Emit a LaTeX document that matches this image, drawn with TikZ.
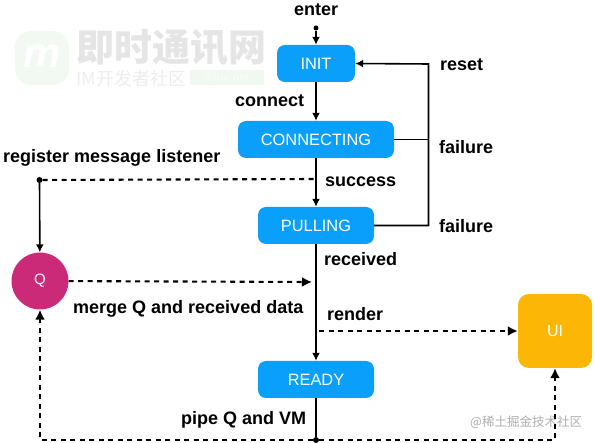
\documentclass[tikz,border=0pt]{standalone}
\usepackage{fontspec}
\setmainfont{Liberation Sans}
\newfontfamily\cjkfont{Noto Sans CJK SC}
\usetikzlibrary{arrows.meta, calc}

\definecolor{stateblue}{HTML}{0A9FFB}
\definecolor{queuered}{HTML}{CB2A78}
\definecolor{uiyellow}{HTML}{FBB606}

\tikzset{
  state/.style={draw=none, fill=stateblue, rounded corners=8pt, text=white, minimum width=116pt, minimum height=37pt, inner sep=0pt, font=\fontsize{16.4}{16.4}\selectfont},
  lbl/.style={anchor=base west, inner sep=0pt, font=\fontsize{18}{18}\selectfont\bfseries},
  flow/.style={line width=1.6pt, -{Latex[length=8pt,width=8pt]}},
  plainline/.style={line width=1.6pt},
  dashline/.style={line width=2.1pt, dash pattern=on 5pt off 4.5pt},
  dasharrow/.style={dashline, -{Latex[length=10pt,width=10pt]}},
  dotmark/.style={circle, fill=black, minimum size=6pt, inner sep=0pt}
}

\begin{document}
\begin{tikzpicture}[x=1pt, y=-1pt]
  \useasboundingbox (0,0) rectangle (595,443);

  % watermark top left
  \fill[green!50!black, opacity=0.05, rounded corners=16pt] (15,31) rectangle (69,85);
  \node[inner sep=0pt, text=white, font=\fontsize{42}{42}\selectfont\bfseries\itshape] (logo) at (42,56) {m};
  \node[inner sep=0pt, text=black!10, font=\cjkfont\fontsize{38}{38}\selectfont\bfseries, anchor=west] (wmtitle) at (76,48) {即时通讯网};
  \node[inner sep=0pt, text=black!7, font=\cjkfont\fontsize{18}{18}\selectfont, anchor=west] (wmsub) at (76,79) {IM开发者社区};
  \node[fill=green!50!black, fill opacity=0.06, text opacity=0.5, text=white, inner sep=1pt, minimum width=74pt, minimum height=15pt, font=\fontsize{11}{11}\selectfont\bfseries] (wmsite) at (227,78) {52im.net};

  % watermark bottom right
  \node[inner sep=0pt, text=black!32, font=\cjkfont\fontsize{12.5}{12.5}\selectfont, anchor=west] (wmcredit) at (470,422) {@稀土掘金技术社区};

  % states
  \node[state, minimum width=78pt] (init) at (316,63.5) {INIT};
  \node[state, minimum width=156pt] (connecting) at (316,139.5) {CONNECTING};
  \node[state] (pulling) at (316,225.5) {PULLING};
  \node[state] (ready) at (316,379.5) {READY};
  \node[circle, fill=queuered, text=white, minimum size=57pt, inner sep=0pt, font=\fontsize{15}{15}\selectfont] (q) at (40,281) {Q};
  \node[fill=uiyellow, text=white, rounded corners=11pt, minimum size=74pt, inner sep=0pt, font=\fontsize{16}{16}\selectfont] (ui) at (555,331) {UI};

  % helper points
  \node[dotmark, minimum size=5pt] (start) at (316,28) {};
  \node[dotmark] (listen) at (39.5,180) {};
  \node[dotmark] (pipe) at (316,440) {};
  \coordinate (rail) at (428.5,64);
  \coordinate (mergeend) at (312,282);
  \coordinate (renderstart) at (319,331);
  \coordinate (successpoint) at (316,179);

  % main flow
  \draw[flow] (start) -- (init);
  \draw[flow] (init) -- (connecting);
  \draw[flow] (connecting) -- (pulling);
  \draw[flow] (pulling) -- (ready);
  \draw[plainline] (ready) -- (pipe);

  % failure paths
  \draw[flow] (pulling.east) -| (rail) -- (init.east);
  \draw[plainline] (connecting.east) -- (connecting.east -| rail);

  % listener and queue
  \draw[flow] (listen) -- (q);
  \draw[dashline] (listen) -- (successpoint);
  \draw[dasharrow] (q) -- (mergeend);
  \draw[dasharrow] (renderstart) -- (ui);
  \draw[dasharrow] (pipe) -| (q);
  \draw[dasharrow] (pipe) -| (ui);

  % labels
  \node[lbl] (enterlbl) at (294,16) {enter};
  \node[lbl] (resetlbl) at (440,71) {reset};
  \node[lbl] (connectlbl) at (235,107) {connect};
  \node[lbl] (failurelbla) at (439,154) {failure};
  \node[lbl] (registerlbl) at (3,163) {register message listener};
  \node[lbl] (successlbl) at (325,187) {success};
  \node[lbl] (failurelblb) at (439,233) {failure};
  \node[lbl] (receivedlbl) at (324,266) {received};
  \node[lbl] (mergelbl) at (73,314) {merge Q and received data};
  \node[lbl] (renderlbl) at (327,321) {render};
  \node[lbl] (pipelbl) at (181,425) {pipe Q and VM};
\end{tikzpicture}
\end{document}
